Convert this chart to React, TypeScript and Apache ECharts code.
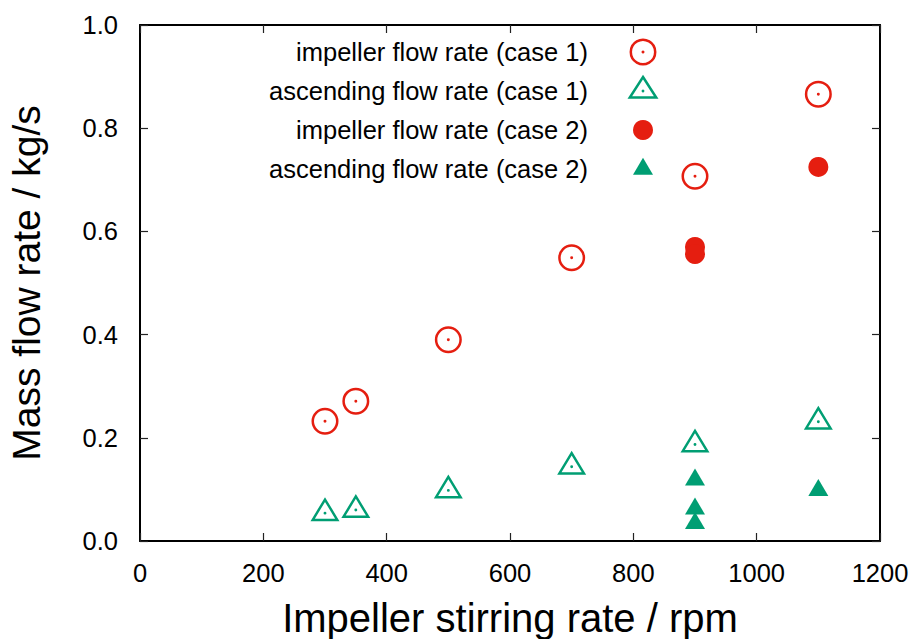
import React, { useEffect, useRef } from "react";
import * as echarts from "echarts";

const rpmCase1 = [300, 350, 500, 700, 900, 1100];
const impellerCase1 = [0.232, 0.271, 0.39, 0.549, 0.707, 0.866];
const ascendingCase1 = [0.054, 0.06, 0.098, 0.144, 0.187, 0.231];
const rpmCase2 = [900, 900, 1100];
const impellerCase2 = [0.57, 0.556, 0.725];
const rpmCase2Asc = [900, 900, 900, 1100];
const ascendingCase2 = [0.118, 0.062, 0.034, 0.098];

const seriesNames = [
  "impeller flow rate (case 1)",
  "ascending flow rate (case 1)",
  "impeller flow rate (case 2)",
  "ascending flow rate (case 2)",
];

const RED = "#e51e10";
const GREEN = "#009e73";
const FONT = "'Liberation Sans', Arial, Helvetica, sans-serif";

const ringPath =
  "path://M50,0 A50,50 0 1,1 50,100 A50,50 0 1,1 50,0 Z M50,9.3 A40.7,40.7 0 1,0 50,90.7 A40.7,40.7 0 1,0 50,9.3 Z M50,44.5 A5.5,5.5 0 1,1 50,55.5 A5.5,5.5 0 1,1 50,44.5 Z";
const triPath =
  "path://M50,0 L100,83 L0,83 Z M50,16.5 L15.05,74.5 L84.95,74.5 Z M50,50.3 A5,5 0 1,1 50,60.3 A5,5 0 1,1 50,50.3 Z";

const zip = (xs: number[], ys: number[]) => xs.map((x, i) => [x, ys[i]]);

export default function App() {
  const ref = useRef<HTMLDivElement>(null);
  useEffect(() => {
    if (!ref.current) return;
    const chart = echarts.init(ref.current, null, { renderer: "svg" });
    const axisLine = { show: true, onZero: false, lineStyle: { color: "#000", width: 2 } };
    const axisTick = { show: true, inside: true, length: 8, lineStyle: { color: "#222", width: 1.2 } };
    const labelStyle = { color: "#000", fontSize: 25.5, fontFamily: FONT };
    const legendX = 588;
    const markX = 643;
    const rows = [52, 91, 130, 169];
    const graphic: any[] = [];
    seriesNames.forEach((n, i) => {
      graphic.push({
        type: "text",
        x: legendX,
        y: rows[i],
        style: {
          text: n,
          fill: "#000",
          fontSize: 25.5,
          fontFamily: FONT,
          align: "right",
          verticalAlign: "middle",
        },
      });
    });
    graphic.push(
      { type: "circle", shape: { cx: markX, cy: rows[0], r: 12.2 }, style: { fill: "none", stroke: RED, lineWidth: 2.5 } },
      { type: "circle", shape: { cx: markX, cy: rows[0], r: 1.5 }, style: { fill: RED } },
      {
        type: "polygon",
        shape: { points: [[markX, rows[1] - 14], [markX + 13.2, rows[1] + 6.5], [markX - 13.2, rows[1] + 6.5]] },
        style: { fill: "none", stroke: GREEN, lineWidth: 2.5 },
      },
      { type: "circle", shape: { cx: markX, cy: rows[1], r: 1.4 }, style: { fill: GREEN } },
      { type: "circle", shape: { cx: markX, cy: rows[2], r: 10 }, style: { fill: RED } },
      {
        type: "polygon",
        shape: { points: [[markX, rows[3] - 11.3], [markX + 10, rows[3] + 5.7], [markX - 10, rows[3] + 5.7]] },
        style: { fill: GREEN },
      }
    );

    chart.setOption({
      animation: false,
      grid: { left: 140, right: 36, top: 25, bottom: 98, containLabel: false, outerBoundsMode: "none" },
      xAxis: [
        {
          type: "value",
          min: 0,
          max: 1200,
          interval: 200,
          position: "bottom",
          axisLine,
          axisTick,
          splitLine: { show: false },
          axisLabel: { ...labelStyle, margin: 19, formatter: (v: number) => String(v) },
          name: "Impeller stirring rate / rpm",
          nameLocation: "middle",
          nameGap: 57,
          nameTextStyle: { color: "#000", fontSize: 40, fontFamily: FONT },
        },
        {
          type: "value",
          min: 0,
          max: 1200,
          interval: 200,
          position: "top",
          axisLine,
          axisTick,
          splitLine: { show: false },
          axisLabel: { show: false },
        },
      ],
      yAxis: [
        {
          type: "value",
          min: 0,
          max: 1,
          interval: 0.2,
          position: "left",
          axisLine,
          axisTick,
          splitLine: { show: false },
          axisLabel: { ...labelStyle, margin: 22, formatter: (v: number) => v.toFixed(1) },
          name: "Mass flow rate / kg/s",
          nameLocation: "middle",
          nameGap: 94,
          nameTextStyle: { color: "#000", fontSize: 39, fontFamily: FONT },
        },
        {
          type: "value",
          min: 0,
          max: 1,
          interval: 0.2,
          position: "right",
          axisLine,
          axisTick,
          splitLine: { show: false },
          axisLabel: { show: false },
        },
      ],
      series: [
        {
          name: seriesNames[0],
          type: "scatter",
          data: zip(rpmCase1, impellerCase1),
          symbol: ringPath,
          symbolSize: 27,
          itemStyle: { color: RED, opacity: 1 },
        },
        {
          name: seriesNames[1],
          type: "scatter",
          data: zip(rpmCase1, ascendingCase1),
          symbol: triPath,
          symbolSize: [29, 24],
          symbolOffset: [0, -4],
          itemStyle: { color: GREEN, opacity: 1 },
        },
        {
          name: seriesNames[2],
          type: "scatter",
          data: zip(rpmCase2, impellerCase2),
          symbol: "circle",
          symbolSize: 20,
          itemStyle: { color: RED, opacity: 1 },
        },
        {
          name: seriesNames[3],
          type: "scatter",
          data: zip(rpmCase2Asc, ascendingCase2),
          symbol: "triangle",
          symbolSize: [20, 17],
          symbolOffset: [0, -3],
          itemStyle: { color: GREEN, opacity: 1 },
        },
      ],
      graphic,
    });
    return () => chart.dispose();
  }, []);
  return (
    <div
      ref={ref}
      style={{ position: "absolute", left: 0, top: 0, width: 916, height: 639 }}
    />
  );
}
